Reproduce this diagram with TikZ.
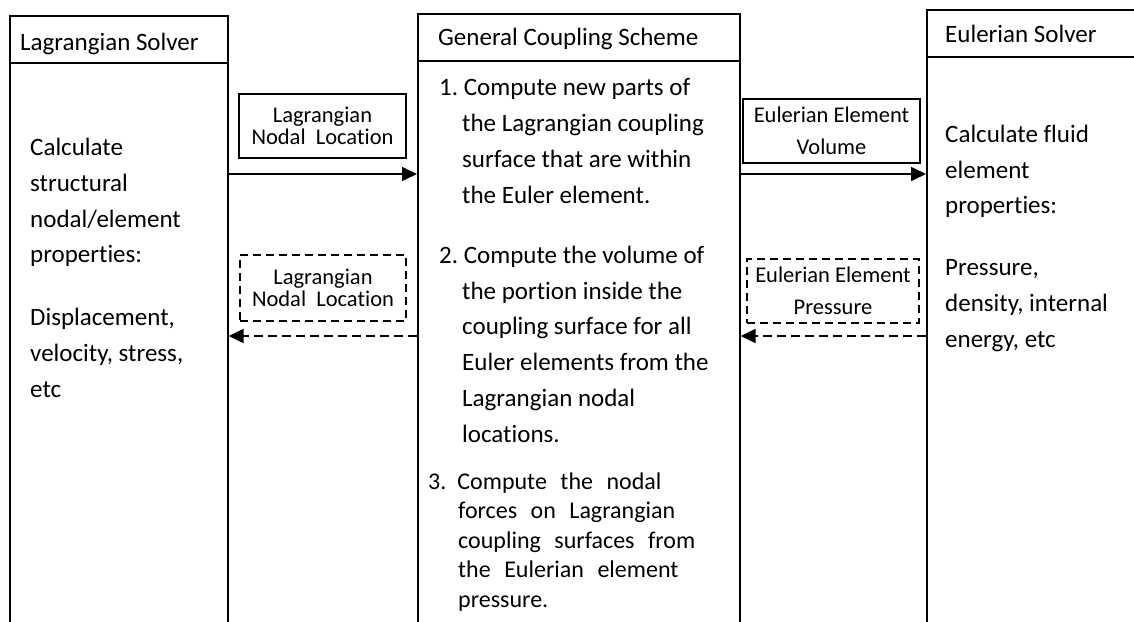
\documentclass[tikz,border=0pt]{standalone}
\usepackage{fontspec}
\setmainfont{Carlito}[Ligatures=NoCommon]
\usetikzlibrary{arrows.meta}

\begin{document}
\frenchspacing
\begin{tikzpicture}[x=1pt,y=-1pt,
  colbox/.style={draw,line width=1.6pt,rectangle,inner sep=0pt,anchor=north west},
  tagbox/.style={draw,line width=1.3pt,rectangle,inner sep=0pt,align=center},
  dashedtag/.style={tagbox,dash pattern=on 8pt off 5pt},
  % multi-line text: the node is placed by the baseline of its last line
  body/.style={inner sep=0pt,anchor=base west,align=left,font=\fontsize{25}{35.7}\selectfont},
  head/.style={inner sep=0pt,anchor=base west,font=\fontsize{25}{30}\selectfont},
  tagfont/.style={font=\fontsize{22.5}{#1}\selectfont},
  flow/.style={line width=1.6pt,-{Triangle[length=15pt,width=14pt]}},
  back/.style={flow,dash pattern=on 9pt off 5pt}]

\useasboundingbox (0,0) rectangle (1134,621);

% the three columns run off the bottom of the page
\node[colbox,minimum width=218pt,minimum height=640pt] (lcol) at (9,15) {};
\node[colbox,minimum width=322pt,minimum height=640pt] (ccol) at (417,13) {};
\node[colbox,minimum width=240pt,minimum height=640pt] (rcol) at (926,9) {};

% header rules and message rows
\coordinate (hl) at (0,63);
\coordinate (hc) at (0,61);
\coordinate (hr) at (0,57);
\coordinate (rowA) at (0,174);
\coordinate (rowB) at (0,336);
\draw[line width=1.6pt] (lcol.west |- hl) -- (lcol.east |- hl);
\draw[line width=1.6pt] (ccol.west |- hc) -- (ccol.east |- hc);
\draw[line width=1.6pt] (rcol.west |- hr) -- (rcol.east |- hr);

% headers
\node[head] (lhead) at (20,50) {Lagrangian Solver};
\node[head] (chead) at (438,45) {General Coupling Scheme};
\node[head] (rhead) at (945,42) {Eulerian Solver};

% column contents
\node[body] (ltext) at (30,397) {Calculate\\structural\\nodal/element\\properties:\\[27pt]Displacement,\\velocity, stress,\\etc};

\node[body] (step1) at (439,203) {1. Compute new parts of\\\hspace*{23pt}the Lagrangian coupling\\\hspace*{23pt}surface that are within\\\hspace*{23pt}the Euler element.};

\node[body] (step2) at (439,442) {2. Compute the volume of\\\hspace*{23pt}the portion inside the\\\hspace*{23pt}coupling surface for all\\\hspace*{23pt}Euler elements from the\\\hspace*{23pt}Lagrangian nodal\\\hspace*{23pt}locations.};

\node[body,font={\fontsize{24}{29.5}\selectfont\spaceskip=13.5pt\relax}] (step3) at (428,607) {3.\hspace{11pt}Compute the nodal\\\hspace*{30pt}forces on Lagrangian\\\hspace*{30pt}coupling surfaces from\\\hspace*{30pt}the Eulerian element\\\hspace*{30pt}pressure.};

\node[body] (rtext) at (945,347) {Calculate fluid\\element\\properties:\\[26pt]Pressure,\\density, internal\\energy, etc};

% exchanged quantities
\node[tagbox,tagfont=22,minimum width=167pt,minimum height=64pt] (lagfwd) at (322.5,126) {Lagrangian\\Nodal\ \ Location};
\node[dashedtag,tagfont=22,minimum width=166pt,minimum height=66pt] (lagback) at (323,288) {Lagrangian\\Nodal\ \ Location};
\node[tagbox,tagfont=32.5,minimum width=177pt,minimum height=64pt] (eulvol) at (831.5,131) {Eulerian Element\\Volume};
\node[dashedtag,tagfont=32.5,minimum width=172pt,minimum height=64pt] (eulpres) at (833,291) {Eulerian Element\\Pressure};

% data flow between the solvers and the coupling scheme
\draw[flow] (lcol.east |- rowA) -- (ccol.west |- rowA);
\draw[flow] (ccol.east |- rowA) -- (rcol.west |- rowA);
\draw[back] (ccol.west |- rowB) -- (lcol.east |- rowB);
\draw[back] (rcol.west |- rowB) -- (ccol.east |- rowB);
\end{tikzpicture}
\end{document}
